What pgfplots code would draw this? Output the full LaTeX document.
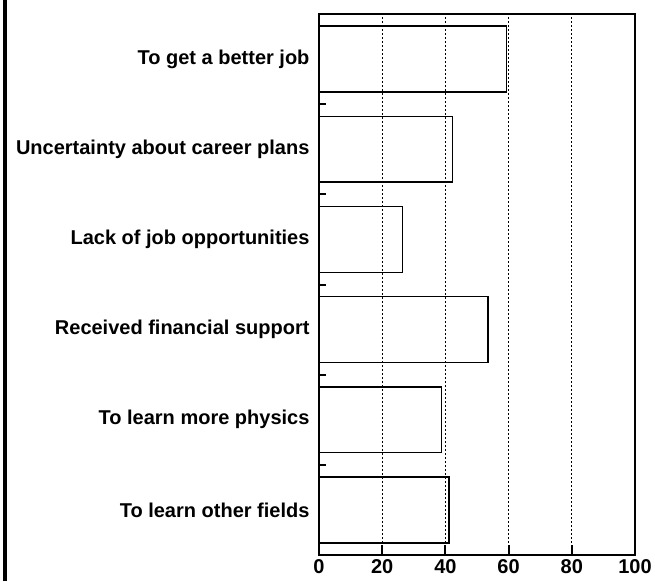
\documentclass[border=0pt]{standalone}
\usepackage{fontspec}
\setmainfont{Liberation Sans}
\usepackage{pgfplots}
\pgfplotsset{compat=1.18}
\begin{document}
\begin{tikzpicture}
\begin{axis}[
  at={(0,0)}, anchor=south west,
  scale only axis, clip=false,
  width=316pt, height=541pt,
  xbar, bar width=0.73,
  xmin=0, xmax=100,
  ymin=-0.5, ymax=5.5,
  xtick={0,20,40,60,80,100},
  ytick={0.5,1.5,2.5,3.5,4.5},
  yticklabels={},
  extra y ticks={0,1,2,3,4,5},
  extra y tick labels={To learn other fields, To learn more physics, Received financial support, Lack of job opportunities, Uncertainty about career plans, To get a better job},
  extra y tick style={major tick length=0pt, tick style={draw=none}},
  tick align=inside,
  xtick pos=left, ytick pos=left,
  xtick style={line width=2pt, black},
  ytick style={line width=2pt, black},
  major tick length=7pt,
  axis line style={line width=1.8pt},
  xmajorgrids,
  grid style={black, line width=0.8pt, dash pattern=on 2pt off 2pt},
  /pgf/number format/assume math mode=true,
  tick label style={font=\fontsize{20}{22}\selectfont\bfseries},
  xticklabel style={yshift=-1pt},
  yticklabel style={xshift=-6pt},
]
\addplot[draw=black, line width=1.5pt, fill=none] coordinates {
  (41.2,0) (38.7,1) (53.5,2) (26.4,3) (42.3,4) (59.4,5)
};
\pgfplotsinvokeforeach{0,20,40,60,80,100}{
  \draw[line width=2pt, black] (axis cs:#1,-0.5) -- ++(0pt,10pt);
}
\end{axis}
\draw[line width=4pt] (-314pt,-26pt) -- (-314pt,555pt);
\pgfresetboundingbox
\path[use as bounding box] (-319pt,-26pt) rectangle (336pt,555pt);
\end{tikzpicture}
\end{document}
